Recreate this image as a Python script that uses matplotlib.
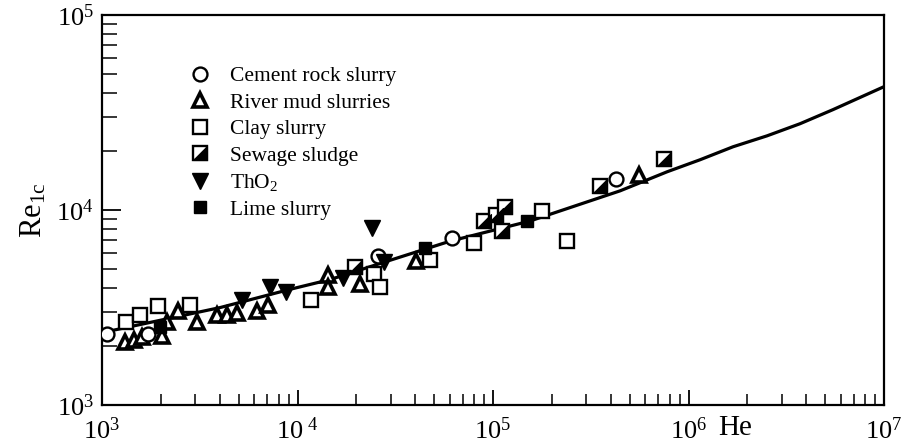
import matplotlib
matplotlib.use('Agg')
import matplotlib.pyplot as plt
from matplotlib.path import Path
from matplotlib.lines import Line2D
from matplotlib.ticker import LogLocator, FuncFormatter, NullFormatter
import numpy as np

plt.rcParams['font.family'] = ['Liberation Serif', 'DejaVu Serif']
plt.rcParams['mathtext.fontset'] = 'custom'
plt.rcParams['mathtext.rm'] = 'Liberation Serif'
plt.rcParams['mathtext.it'] = 'Liberation Serif:italic'
plt.rcParams['mathtext.bf'] = 'Liberation Serif:bold'

# ---------------- data ----------------
cement_he = [1060, 1720, 25800, 61700, 426000]
cement_re = [2320, 2300, 5790, 7180, 14400]

river_he = [1310, 1460, 1600, 2030, 2150, 2450, 3060, 3870, 4360, 4910, 6210, 7070,
            14300, 14300, 20900, 40400, 558000]
river_re = [2110, 2160, 2220, 2270, 2680, 3020, 2650, 2910, 2910, 2980, 3020, 3240,
            4620, 4010, 4150, 5460, 15100]

clay_he = [1330, 1560, 1930, 2820, 11700, 24600, 26400, 47600, 80000, 178000, 239000]
clay_re = [2680, 2910, 3200, 3240, 3440, 4680, 4010, 5520, 6760, 9890, 6920]

sewage_he = [19700, 90000, 103500, 115000, 111000, 352000, 750000]
sewage_re = [5080, 8770, 9430, 10350, 7800, 13300, 18300]

tho2_he = [5200, 7230, 8730, 17100, 24100, 27700]
tho2_re = [3470, 4010, 3780, 4460, 8070, 5390]

lime_he = [1980, 44900, 149000]
lime_re = [2500, 6370, 8770]

curve_he = [1000, 4020, 9160, 14700, 28700, 60300, 154000, 447000, 777000,
            1146000, 1690000, 2520000, 3720000, 5480000, 10000000]
curve_re = [2350, 3160, 3920, 4400, 5460, 6920, 8770, 12540, 15700,
            18100, 21100, 24000, 27700, 32700, 42900]

labels = ['Cement rock slurry', 'River mud slurries', 'Clay slurry',
          'Sewage sludge', 'ThO$_2$', 'Lime slurry']

# ---------------- figure ----------------
fig = plt.figure(figsize=(9.16, 4.45), dpi=100)
ax = fig.add_axes([102/916, 1-405/445, 782/916, 390/445])
ax.set_xscale('log')
ax.set_yscale('log')
ax.set_xlim(1e3, 1e7)
ax.set_ylim(1e3, 1e5)

ax.plot(curve_he, curve_re, '-', color='black', lw=2.3, zorder=2,
        solid_joinstyle='round')

lr_tri = Path([(-1, -1), (1, -1), (1, 1), (-1, -1)],
              [Path.MOVETO, Path.LINETO, Path.LINETO, Path.CLOSEPOLY])

ms_sq = 9.5
kw_c = dict(marker='o', ms=10, mfc='white', mec='black', mew=1.7, ls='none', zorder=3)
kw_t = dict(marker='^', ms=10.5, mfc='white', mec='black', mew=2.6, ls='none', zorder=3)
kw_s = dict(marker='s', ms=ms_sq, mfc='white', mec='black', mew=1.7, ls='none', zorder=3)
kw_sw1 = dict(marker='s', ms=ms_sq, mfc='white', mec='black', mew=1.7, ls='none', zorder=3)
kw_sw2 = dict(marker=lr_tri, ms=ms_sq, mfc='black', mec='black', mew=0.8, ls='none', zorder=4)
kw_v = dict(marker='v', ms=11.5, mfc='black', mec='black', mew=1, ls='none', zorder=3)
kw_l = dict(marker='s', ms=9, mfc='black', mec='black', mew=1, ls='none', zorder=3)

ax.plot(clay_he, clay_re, **kw_s)
ax.plot(river_he, river_re, **kw_t)
ax.plot(cement_he, cement_re, **kw_c)
ax.plot(sewage_he, sewage_re, **kw_sw1)
ax.plot(sewage_he, sewage_re, **kw_sw2)
ax.plot(tho2_he, tho2_re, **kw_v)
ax.plot(lime_he, lime_re, **kw_l)

# legend
h_c = Line2D([], [], **kw_c)
h_t = Line2D([], [], **kw_t)
h_s = Line2D([], [], **kw_s)
h_sw = (Line2D([], [], **kw_sw1), Line2D([], [], **kw_sw2))
h_v = Line2D([], [], **kw_v)
h_l = Line2D([], [], **kw_l)
leg = ax.legend([h_c, h_t, h_s, h_sw, h_v, h_l], labels,
                loc='upper left', bbox_to_anchor=((190-102)/782, 1-(66-15)/390),
                frameon=False, fontsize=15.5, handlelength=0.95, handletextpad=0.9,
                labelspacing=0.3, borderpad=0, borderaxespad=0)

# ticks
ax.xaxis.set_major_locator(LogLocator(base=10, numticks=10))
ax.xaxis.set_minor_locator(LogLocator(base=10, subs=np.arange(2, 10), numticks=20))
ax.yaxis.set_major_locator(LogLocator(base=10, numticks=10))
ax.yaxis.set_minor_locator(LogLocator(base=10, subs=np.arange(2, 10), numticks=20))
ax.xaxis.set_minor_formatter(NullFormatter())
ax.yaxis.set_minor_formatter(NullFormatter())

def xfmt(v, pos):
    e = int(round(np.log10(v)))
    if e == 4:
        return r'$10^{\ 4}$'
    return r'$10^{%d}$' % e

def yfmt(v, pos):
    e = int(round(np.log10(v)))
    return r'$10^{%d}$' % e

ax.xaxis.set_major_formatter(FuncFormatter(xfmt))
ax.yaxis.set_major_formatter(FuncFormatter(yfmt))

ax.tick_params(which='both', direction='in', top=False, right=False, color='black')
ax.tick_params(axis='x', which='major', length=11, width=1.3, pad=9, labelsize=19)
ax.tick_params(axis='x', which='minor', length=8, width=1.1)
ax.tick_params(axis='y', which='major', length=14, width=1.3, pad=6, labelsize=19)
ax.tick_params(axis='y', which='minor', length=11, width=1.1)

for s in ax.spines.values():
    s.set_linewidth(1.6)
    s.set_color('black')

ax.set_xlabel('He', fontsize=21)
ax.xaxis.set_label_coords((735-102)/782, -0.025)
ax.set_ylabel(r'$\mathrm{Re}_{\mathrm{1c}}$', fontsize=22)
ax.yaxis.set_label_coords(-0.068, 0.5)

fig.savefig('out.png', dpi=100)
